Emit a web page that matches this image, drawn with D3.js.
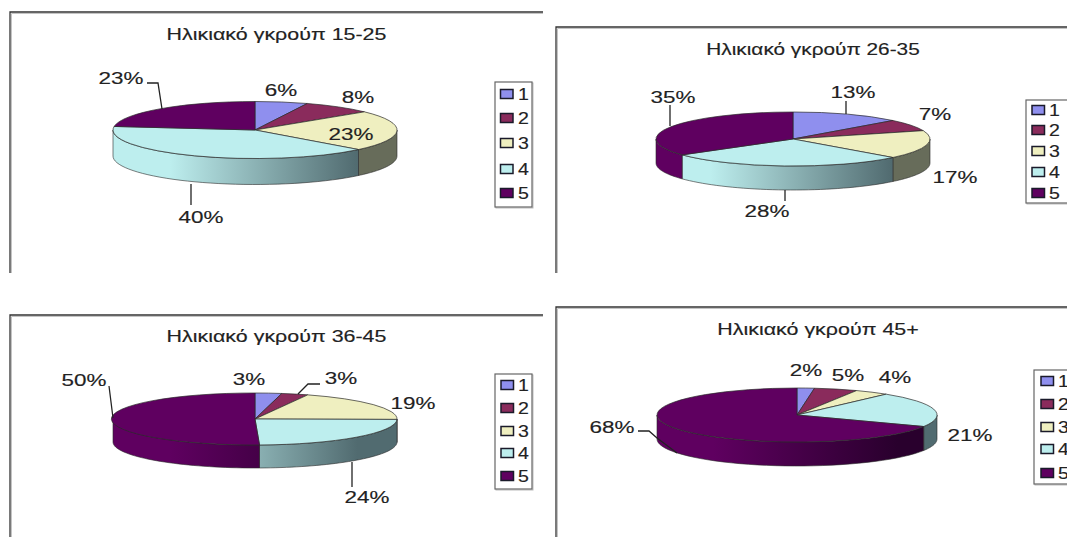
<!DOCTYPE html>
<html>
<head>
<meta charset="utf-8">
<script src="https://cdn.jsdelivr.net/npm/d3@7"></script>
<style>
html,body{margin:0;padding:0;background:#fff;overflow:hidden}
svg{display:block}
text{font-family:"Liberation Sans",Arial,sans-serif;fill:#222;stroke:#222;stroke-width:0.15}
</style>
</head>
<body>
<svg id="chart" width="1067" height="537"></svg>
<script>
// Answer categories shared by all four pies
const categories = ["1", "2", "3", "4", "5"];
const seriesColors = ["#8f8fee", "#8a2b5c", "#efefc0", "#bdeeee", "#5f0060"];

// Age group titles
const titles = ["Ηλικιακό γκρούπ 15-25", "Ηλικιακό γκρούπ 26-35", "Ηλικιακό γκρούπ 36-45", "Ηλικιακό γκρούπ 45+"];

// Percentages per age group, one entry per category
const group1525 = [6, 8, 23, 40, 23];
const group2635 = [13, 7, 17, 28, 35];
const group3645 = [3, 3, 19, 24, 50];
const group45up = [2, 5, 4, 21, 68];
const groups = [group1525, group2635, group3645, group45up];

// Page layout of each panel: frame, pie ellipse, title, legend, label anchors, leader lines
const panels = [
  { frame: [10, 12, 543, 273], cx: 255, cy: 130, rx: 142, ry: 28.5, depth: 26, title: [276.5, 40], titleStretch: 1.34,
    legend: { x: 495, y: 82, w: 37, h: 125, sw: 500.5, tx: 518, ys: [94, 118, 143, 169, 193] },
    labels: [[281, 96], [358, 103], [351, 140], [201, 223], [121, 84]],
    leaders: [[], [], [], [[191, 184], [191, 205]], [[147, 83], [158, 83], [162, 109]]] },
  { frame: [556, 27, 1067, 273], cx: 793, cy: 139, rx: 137, ry: 27, depth: 24, title: [813, 55], titleStretch: 1.3,
    legend: { x: 1026, y: 100, w: 50, h: 103, sw: 1032, tx: 1049, ys: [110, 130, 151, 172, 193] },
    labels: [[853, 98], [935, 120], [955, 183], [767, 217], [673, 103]],
    leaders: [[[846, 101], [846, 114]], [], [], [[785, 190], [785, 201]], [[670, 105], [670, 126]]] },
  { frame: [10, 315, 543, 537], cx: 255, cy: 419, rx: 142, ry: 26, depth: 23, title: [276.5, 342], titleStretch: 1.34,
    legend: { x: 495, y: 374, w: 37, h: 115, sw: 501, tx: 518, ys: [385, 408, 431, 453, 476] },
    labels: [[249, 385], [341, 384], [413, 409], [367, 503], [84, 386]],
    leaders: [[], [[298, 394], [308, 384], [320, 384]], [], [[352, 462], [352, 487]], [[109, 386], [113, 418]]] },
  { frame: [556, 307, 1067, 537], cx: 797, cy: 415, rx: 140, ry: 27, depth: 24, title: [818, 335], titleStretch: 1.34,
    legend: { x: 1034, y: 370, w: 50, h: 114, sw: 1041, tx: 1058, ys: [381, 404, 427, 449, 473] },
    labels: [[806, 376], [848, 381], [895, 383], [970, 441], [612, 433]],
    leaders: [[], [], [], [], [[638, 431], [649, 431], [657, 438], [677, 453]]] }
];

const svg = d3.select("#chart");
const defs = svg.append("defs");
const pie = d3.pie().sort(null).value(d => d);
const unitArc = d3.arc().innerRadius(0).outerRadius(1);
const outline = "#2a2a2a";

// Text set wider than the regular face, as in the printed charts
function label(g, x, y, str, size, stretch, anchor) {
  g.append("text")
    .attr("transform", `translate(${x},${y}) scale(${stretch},1)`)
    .attr("text-anchor", anchor)
    .attr("font-size", size)
    .text(str);
}

groups.forEach((values, p) => {
  const L = panels[p];
  const g = svg.append("g");

  // Panel frame: open at the right and bottom, soft grey edge beside the dark rule
  const [x0, y0, x1, y1] = L.frame;
  g.append("path").attr("d", `M${x0 + 1.5},${y1}V${y0 + 1.5}H${x1}`).attr("fill", "none").attr("stroke", "#c4c4c4").attr("stroke-width", 1);
  g.append("path").attr("d", `M${x0},${y1}V${y0}H${x1}`).attr("fill", "none").attr("stroke", "#333").attr("stroke-width", 1.3);

  label(g, L.title[0], L.title[1], titles[p], 16, L.titleStretch, "middle");

  const slices = pie(values);
  const px = a => L.cx + L.rx * Math.sin(a);
  const py = a => L.cy - L.ry * Math.cos(a);

  // Side wall shading runs left to right across the whole pie
  const shade = seriesColors.map((c, i) => {
    const id = `shade-${p}-${i}`;
    const base = d3.rgb(c);
    const grad = defs.append("linearGradient").attr("id", id)
      .attr("gradientUnits", "userSpaceOnUse")
      .attr("x1", L.cx - L.rx).attr("x2", L.cx + L.rx).attr("y1", 0).attr("y2", 0);
    grad.append("stop").attr("offset", 0.2).attr("stop-color", c);
    grad.append("stop").attr("offset", 0.86).attr("stop-color", d3.rgb(base.r * 0.43, base.g * 0.45, base.b * 0.47));
    return `url(#${id})`;
  });

  // Side wall: only the part of each slice on the front half of the ellipse
  const wall = d3.line();
  slices.forEach(s => {
    const a0 = Math.max(s.startAngle, Math.PI / 2);
    const a1 = Math.min(s.endAngle, Math.PI * 1.5);
    if (a1 <= a0) return;
    const steps = d3.range(0, 41).map(k => a0 + (a1 - a0) * k / 40);
    const pts = steps.map(a => [px(a), py(a)])
      .concat(steps.slice().reverse().map(a => [px(a), py(a) + L.depth]));
    g.append("path").attr("d", wall(pts) + "Z")
      .attr("fill", shade[s.index]).attr("stroke", outline).attr("stroke-width", 0.6);
  });

  // Top face
  const top = g.append("g").attr("transform", `translate(${L.cx},${L.cy}) scale(${L.rx},${L.ry})`);
  top.selectAll("path").data(slices).join("path")
    .attr("d", unitArc)
    .attr("fill", d => seriesColors[d.index])
    .attr("stroke", outline).attr("stroke-width", 0.7)
    .attr("vector-effect", "non-scaling-stroke");

  // Percentage labels and their leader lines
  const leader = d3.line();
  slices.forEach((s, i) => {
    if (L.leaders[i].length) {
      g.append("path").attr("d", leader(L.leaders[i])).attr("fill", "none").attr("stroke", "#222").attr("stroke-width", 1.3);
    }
    label(g, L.labels[i][0], L.labels[i][1], `${s.data}%`, 17, 1.32, "middle");
  });

  // Legend
  const lg = L.legend;
  g.append("rect").attr("x", lg.x + 1).attr("y", lg.y + 1).attr("width", lg.w).attr("height", lg.h).attr("fill", "none").attr("stroke", "#bbb").attr("stroke-width", 1);
  g.append("rect").attr("x", lg.x).attr("y", lg.y).attr("width", lg.w).attr("height", lg.h).attr("fill", "#fff").attr("stroke", "#666").attr("stroke-width", 1.2);
  categories.forEach((c, i) => {
    g.append("rect").attr("x", lg.sw).attr("y", lg.ys[i] - 4.5).attr("width", 12.5).attr("height", 9)
      .attr("fill", seriesColors[i]).attr("stroke", "#1a1a2a").attr("stroke-width", 1.5);
    label(g, lg.tx, lg.ys[i] + 6, c, 17, 1.15, "start");
  });
});
</script>
</body>
</html>
